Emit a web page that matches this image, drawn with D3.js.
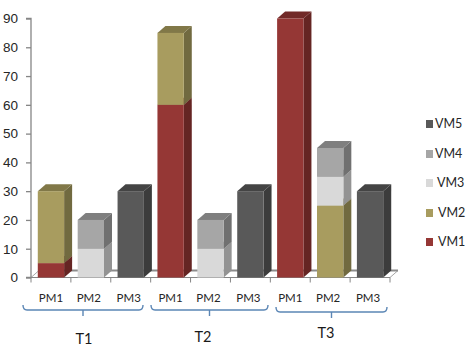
<!DOCTYPE html>
<html>
<head>
<meta charset="utf-8">
<script src="https://cdn.jsdelivr.net/npm/d3@7"></script>
<style>
  html, body { margin: 0; padding: 0; background: #fff; }
  svg { display: block; font-family: Lato, "Open Sans", sans-serif; }
</style>
</head>
<body>
<div id="chart"></div>
<script>
const groups = ["T1", "T2", "T3"];
const machines = ["PM1", "PM2", "PM3"];
const series = ["VM1", "VM2", "VM3", "VM4", "VM5"];
const yTicks = [0, 10, 20, 30, 40, 50, 60, 70, 80, 90];

const vm1 = [5, 0, 0, 60, 0, 0, 90, 0, 0];
const vm2 = [25, 0, 0, 25, 0, 0, 0, 25, 0];
const vm3 = [0, 10, 0, 0, 10, 0, 0, 10, 0];
const vm4 = [0, 10, 0, 0, 10, 0, 0, 10, 0];
const vm5 = [0, 0, 30, 0, 0, 30, 0, 0, 30];

const front = ["#953735", "#a89c5f", "#d9d9d9", "#a6a6a6", "#595959"];
const side = ["#652523", "#716a40", "#939393", "#707070", "#3c3c3c"];
const top_ = ["#722a28", "#817848", "#a6a6a6", "#7f7f7f", "#444444"];

const width = 468, height = 357;
const dx = 8, dy = 7; // 3d offset

const rows = d3.range(9).map(i => ({
  key: i,
  VM1: vm1[i], VM2: vm2[i], VM3: vm3[i], VM4: vm4[i], VM5: vm5[i]
}));
const stacked = d3.stack().keys(series)(rows);

const svg = d3.select("#chart").append("svg")
  .attr("width", width)
  .attr("height", height);

const x = d3.scaleBand().domain(d3.range(9)).range([31, 390]).paddingInner(0.34).paddingOuter(0.17);
const y = d3.scaleLinear().domain([0, 90]).range([277.5, 18.5]);

// floor
const floor = d3.path();
floor.moveTo(31, y(0));
floor.lineTo(31 + dx, y(0) - dy);
floor.lineTo(390 + dx, y(0) - dy);
floor.lineTo(390, y(0));
floor.closePath();
svg.append("path").attr("d", floor.toString())
  .attr("fill", "#fff").attr("stroke", "#a6a6a6").attr("stroke-width", 1);
svg.append("line")
  .attr("x1", 31 + dx).attr("x2", 390 + dx)
  .attr("y1", y(0) - dy).attr("y2", y(0) - dy)
  .attr("stroke", "#8c8c8c").attr("stroke-width", 2);

// y axis
const yAxis = svg.append("g").attr("transform", "translate(31,0)")
  .call(d3.axisLeft(y).tickValues(yTicks).tickSize(5).tickPadding(8));
yAxis.selectAll("path, line").attr("stroke", "#868686").attr("stroke-width", 1.3);
yAxis.selectAll("text").attr("font-size", 13.5).attr("fill", "#262626");
yAxis.select(".domain").attr("d", `M-5,${y(90)}H0V${y(0)}H-5`);

// x axis line and ticks
svg.append("line")
  .attr("x1", 31).attr("x2", 390).attr("y1", y(0)).attr("y2", y(0))
  .attr("stroke", "#868686");
svg.append("g").selectAll("line")
  .data(d3.range(10))
  .join("line")
  .attr("x1", i => 31 + i * x.step()).attr("x2", i => 31 + i * x.step())
  .attr("y1", y(0)).attr("y2", y(0) + 5)
  .attr("stroke", "#868686");

// bars, drawn segment by segment from the bottom up
stacked.forEach((layer, s) => {
  const g = svg.append("g").attr("class", series[s]);
  layer.forEach((d, i) => {
    if (d[1] === d[0]) return;
    const x0 = x(i), x1 = x0 + x.bandwidth();
    const y0 = y(d[0]), y1 = y(d[1]);
    g.append("path")
      .attr("d", `M${x1},${y0}L${x1 + dx},${y0 - dy}L${x1 + dx},${y1 - dy}L${x1},${y1}Z`)
      .attr("fill", side[s]);
    g.append("path")
      .attr("d", `M${x0},${y1}L${x0 + dx},${y1 - dy}L${x1 + dx},${y1 - dy}L${x1},${y1}Z`)
      .attr("fill", top_[s]);
    g.append("rect")
      .attr("x", x0).attr("y", y1)
      .attr("width", x.bandwidth()).attr("height", y0 - y1)
      .attr("fill", front[s]);
  });
});

// machine labels, the hand placed text boxes sit a bit left of PM2 and PM3
const labelShift = [0, -2, -2];
svg.append("g").selectAll("text")
  .data(rows)
  .join("text")
  .attr("x", d => x(d.key) + x.bandwidth() / 2 + labelShift[d.key % 3])
  .attr("y", 298)
  .attr("dy", "0.35em")
  .attr("text-anchor", "middle")
  .attr("font-size", 11.5)
  .attr("fill", "#262626")
  .text(d => machines[d.key % 3]);

// braces under each group
const braceY = [305, 305, 307];
const braceL = [23, 151, 276];
const braceR = [143, 268, 387];
const groupX = [84, 203, 326];
const groupY = [339, 337, 333];
groups.forEach((g, i) => {
  const mid = (braceL[i] + braceR[i]) / 2;
  const by = braceY[i];
  svg.append("path")
    .attr("d", `M${braceL[i]},${by}Q${braceL[i]},${by + 5} ${braceL[i] + 4},${by + 5}H${braceR[i] - 4}Q${braceR[i]},${by + 5} ${braceR[i]},${by}M${mid},${by + 5}V${by + 11}`)
    .attr("fill", "none").attr("stroke", "#5b86b5").attr("stroke-width", 1.4);
  svg.append("text")
    .attr("x", groupX[i]).attr("y", groupY[i])
    .attr("dy", "0.35em").attr("text-anchor", "middle")
    .attr("font-size", 14.5).attr("fill", "#1a1a1a")
    .text(g);
});

// legend
const legendY = [242, 213, 183, 154, 124];
const legendTextX = [12, 12, 11, 9, 9];
const legend = svg.append("g").selectAll("g")
  .data(series)
  .join("g")
  .attr("transform", (d, i) => `translate(426,${legendY[i]})`);
legend.append("rect")
  .attr("x", 0).attr("y", -4).attr("width", 7).attr("height", 8)
  .attr("fill", (d, i) => front[i]);
legend.append("text")
  .attr("x", (d, i) => legendTextX[i]).attr("dy", "0.35em")
  .attr("font-size", 12.5).attr("fill", "#262626")
  .text(d => d);
</script>
</body>
</html>
